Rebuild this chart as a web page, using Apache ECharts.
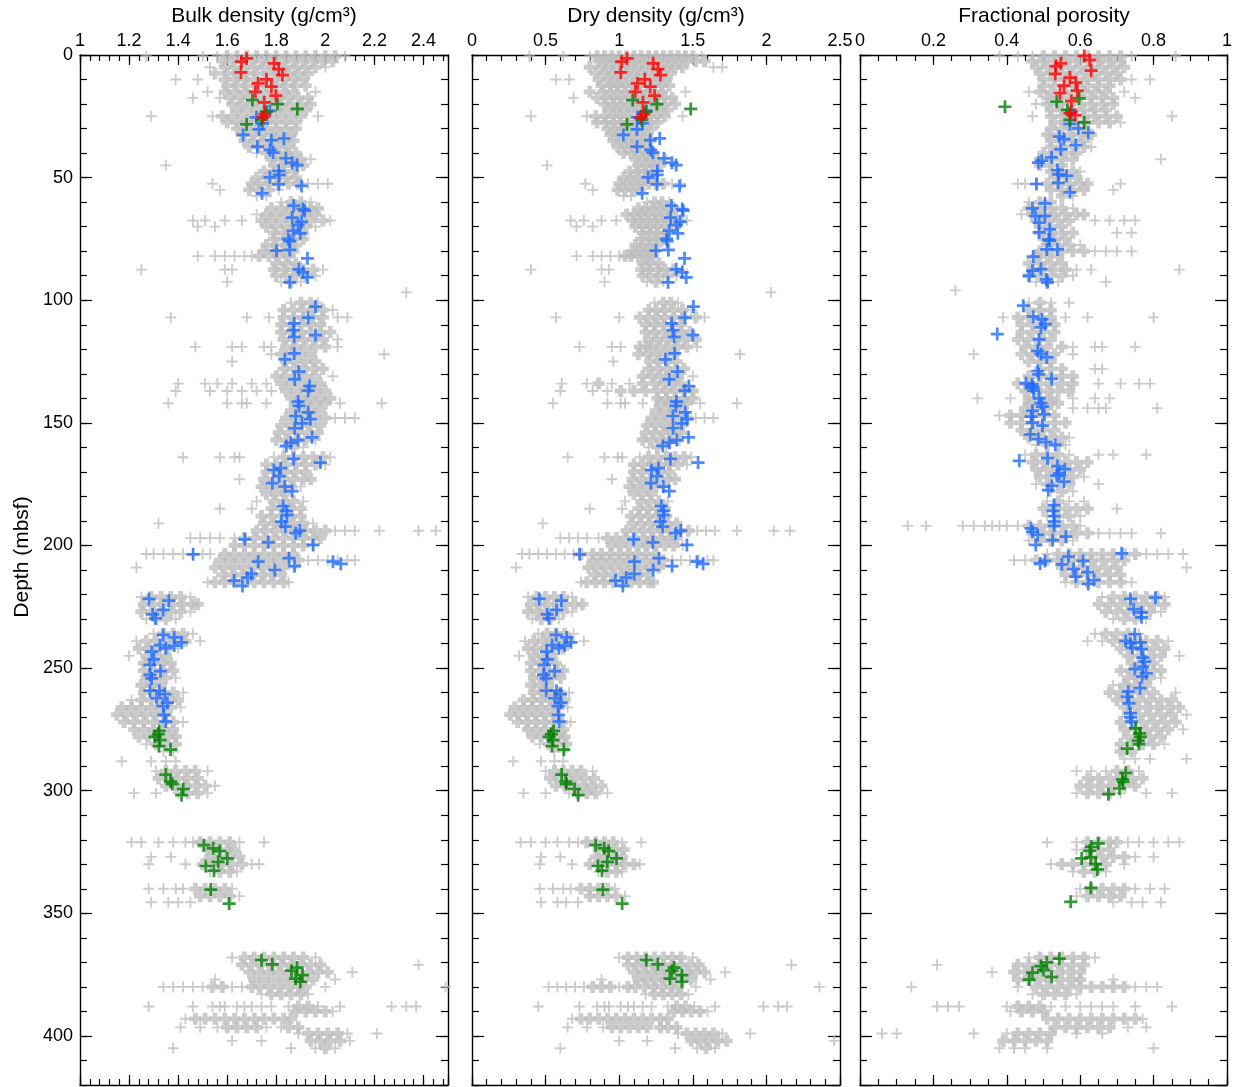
<!DOCTYPE html>
<html><head><meta charset="utf-8">
<script src="https://cdn.jsdelivr.net/npm/echarts@6/dist/echarts.min.js"></script>
<style>html,body{margin:0;padding:0;background:#fff}#c{width:1235px;height:1087px}</style>
</head><body><div id="c"></div><script>
// ---------- tick labels / axis settings ----------
const panelTitles = ['Bulk density (g/cm³)', 'Dry density (g/cm³)', 'Fractional porosity'];
const depthTicks = [0, 50, 100, 150, 200, 250, 300, 350, 400];

// ---------- gray data: rows of [depth, x1, x2, ...] ----------
const grayBulk = [
[0.5,1.27,1.50,1.56,1.60,1.64,1.68,1.72,1.76,1.80,1.84,1.88,1.92,1.96,2.00,2.04,2.08],
[2.5,1.58,1.62,1.66,1.70,1.74,1.78,1.83,1.87,1.91,1.95,1.99,2.03],
[5,1.53,1.59,1.63,1.67,1.71,1.75,1.79,1.84,1.88,1.92,1.96,2.00],
[7.5,1.55,1.60,1.64,1.68,1.72,1.77,1.81,1.85,1.89,1.93],
[10,1.39,1.48,1.59,1.63,1.67,1.71,1.75,1.79,1.83,1.87,1.91],
[12.5,1.60,1.64,1.68,1.72,1.76,1.80,1.84,1.88,1.92],
[15,1.52,1.59,1.63,1.67,1.71,1.75,1.79,1.83,1.87,1.96],
[17.5,1.46,1.57,1.61,1.65,1.69,1.73,1.77,1.81,1.85,1.89,1.93],
[20,1.62,1.66,1.70,1.74,1.78,1.82,1.86,1.90,1.94],
[22.5,1.64,1.68,1.72,1.76,1.80,1.84,1.88,1.92],
[25,1.29,1.54,1.58,1.62,1.66,1.70,1.74,1.78,1.82,1.86,1.90,1.97],
[27.5,1.60,1.64,1.68,1.72,1.76,1.80,1.84,1.88],
[30,1.64,1.68,1.72,1.76,1.80,1.84,1.88],
[32.5,1.66,1.70,1.74,1.78,1.82,1.86],
[35,1.67,1.71,1.75,1.79,1.83,1.87],
[37.5,1.69,1.73,1.77,1.81,1.85],
[40,1.72,1.76,1.80,1.84,1.88],
[42.5,1.78,1.82,1.86,1.90,1.94],
[45,1.35,1.79,1.83,1.87,1.91],
[47.5,1.75,1.79,1.83,1.87],
[50,1.72,1.76,1.80,1.84,1.88],
[52.5,1.54,1.70,1.73,1.77,1.81,1.85,1.89,1.93,1.97,2.01],
[55,1.57,1.69,1.73,1.77,1.81],
[57.5,1.72,1.76],
[60,1.82,1.86,1.90,1.94],
[62.5,1.78,1.82,1.86,1.90,1.94,1.97],
[65,1.72,1.76,1.80,1.84,1.88,1.92,1.96],
[67.5,1.46,1.51,1.59,1.66,1.74,1.78,1.82,1.86,1.90,1.94,1.99,2.02],
[70,1.48,1.55,1.76,1.80,1.84,1.88,1.92,1.96],
[72.5,1.79,1.83,1.87,1.91],
[75,1.79,1.83,1.87,1.91],
[77.5,1.76,1.80,1.84,1.88],
[80,1.75,1.79,1.83,1.87],
[82,1.48,1.55,1.59,1.63,1.67,1.70,1.73,1.77,1.81,1.85],
[85,1.80,1.84,1.88],
[87.5,1.25,1.59,1.62,1.79,1.83,1.87,1.91,1.95,1.99],
[90,1.80,1.84,1.88,1.92,1.96],
[92.5,1.60,1.82,1.86,1.90],
[96.8,2.33],
[101,1.86,1.90,1.94,1.97],
[104,1.83,1.87,1.91,1.95,1.99,2.03],
[107,1.37,1.68,1.77,1.83,1.87,1.91,1.95,1.99,2.05,2.09],
[110,1.82,1.86,1.90,1.94,1.98],
[113,1.82,1.86,1.90,1.94,1.98,2.02],
[116,1.83,1.87,1.91,1.95,1.99,2.05],
[119,1.47,1.62,1.66,1.75,1.78,1.84,1.88,1.92,1.96,2.00,2.05],
[122,1.78,1.82,1.86,1.90,1.94,2.24],
[125,1.62,1.84,1.88,1.92,1.96],
[128,1.83,1.87,1.91,1.95,1.99],
[131,1.80,1.84,1.88,1.92,1.96,2.03],
[134,1.40,1.51,1.56,1.62,1.70,1.76,1.82,1.86,1.90,1.94,1.98],
[137,1.39,1.53,1.60,1.66,1.72,1.78,1.84,1.88,1.92,1.96,2.00],
[140,1.86,1.90,1.94,1.98,2.02],
[142,1.36,1.60,1.66,1.68,1.76,1.88,1.92,1.96,2.00,2.06,2.23],
[145,1.86,1.90,1.94,1.98],
[148,1.84,1.88,1.92,1.96,2.00,2.04,2.08,2.12],
[151,1.82,1.86,1.90,1.94,1.98],
[154,1.81,1.85,1.89,1.93,1.97],
[157,1.80,1.84,1.88,1.92,1.96],
[160,1.83,1.87,1.91],
[164,1.42,1.57,1.63,1.65,1.79,1.83,1.87,1.91,1.95,1.99,2.02],
[167,1.76,1.80,1.84,1.88,1.92,1.96,2.00],
[170,1.76,1.80,1.84,1.88,1.92],
[173,1.65,1.75,1.79,1.83,1.87,1.91,1.94],
[176,1.74,1.78,1.82,1.86,1.90],
[179,1.76,1.80,1.84],
[182,1.72,1.79,1.83,1.87,1.91],
[185,1.57,1.70,1.78,1.82,1.86,1.90],
[188,1.74,1.78,1.82,1.86,1.90],
[191,1.32,1.75,1.79,1.83,1.87,1.91,1.95],
[194,1.72,1.76,1.80,1.84,1.88,1.92,1.96,2.00,2.04,2.08,2.12,2.22,2.38,2.45],
[197,1.45,1.49,1.53,1.57,1.63,1.67,1.71,1.75,1.79,1.83,1.87,1.91,1.95,1.98],
[200,1.63,1.67,1.71,1.75,1.79,1.83,1.87,1.91,1.95],
[203.5,1.27,1.30,1.34,1.38,1.42,1.46,1.50,1.53,1.59,1.63,1.67,1.71,1.75,1.79,1.83,1.87],
[206,1.57,1.61,1.65,1.69,1.73,1.77,1.81,1.85,1.89,1.93,1.97,2.01,2.05,2.09,2.12],
[209,1.23,1.55,1.59,1.63,1.67,1.71,1.75,1.79,1.83,1.87],
[212,1.58,1.62,1.66,1.70,1.74,1.78,1.82],
[215,1.52,1.55,1.59,1.63,1.67,1.71,1.75,1.79,1.83,1.85],
[221,1.25,1.29,1.33,1.37,1.41,1.45],
[224,1.26,1.30,1.34,1.38,1.42,1.46,1.48],
[227,1.25,1.29,1.33,1.37,1.41,1.45],
[230,1.27,1.31,1.35,1.39],
[236,1.30,1.34,1.38,1.42,1.46],
[239,1.23,1.27,1.31,1.35,1.39,1.43,1.49],
[242,1.24,1.28,1.32,1.36,1.40],
[245,1.20,1.27,1.31,1.35],
[248,1.26,1.30,1.34,1.37],
[251,1.26,1.30,1.34,1.38],
[254,1.27,1.31,1.35,1.39],
[257,1.25,1.29,1.33],
[260,1.26,1.30,1.34,1.38,1.42],
[263,1.21,1.25,1.29,1.33,1.37,1.40],
[266,1.17,1.21,1.25,1.29,1.33,1.37,1.41],
[269,1.15,1.19,1.23,1.27,1.31,1.35],
[272,1.18,1.22,1.26,1.30,1.34,1.38,1.42],
[275,1.22,1.26,1.30,1.34,1.38],
[278,1.24,1.28,1.32,1.36,1.39],
[281,1.27,1.31,1.35,1.39],
[284,1.34,1.38],
[288,1.17,1.29,1.35,1.39],
[292,1.31,1.35,1.39,1.43,1.47,1.52],
[295,1.32,1.36,1.40,1.44,1.48],
[298,1.35,1.39,1.43,1.47,1.51,1.55],
[301,1.22,1.31,1.40,1.44,1.48,1.52],
[321,1.21,1.25,1.32,1.38,1.43,1.46,1.49,1.53,1.57,1.61,1.65,1.75],
[324,1.52,1.56,1.60,1.63],
[327,1.29,1.37,1.53,1.57,1.61,1.65],
[330,1.28,1.43,1.50,1.54,1.58,1.62,1.66,1.70,1.73],
[333,1.53,1.57,1.61,1.64],
[340,1.28,1.34,1.39,1.42,1.47,1.51,1.55,1.59,1.62],
[343,1.49,1.53,1.57,1.61,1.65],
[345.5,1.29,1.36,1.40,1.45],
[368,1.62,1.67,1.71,1.75,1.79,1.83,1.87,1.91,1.96],
[371,1.66,1.70,1.74,1.78,1.82,1.86,1.90,1.94,1.98,2.38],
[374,1.69,1.73,1.77,1.81,1.85,1.89,1.93,1.97,2.01,2.11],
[377,1.55,1.71,1.75,1.79,1.83,1.87,1.91,1.95,2.04],
[380,1.34,1.38,1.42,1.46,1.50,1.54,1.58,1.62,1.66,1.70,1.73,1.77,1.81,1.85,1.89,1.92,2.00,2.49],
[383,1.74,1.78,1.82,1.86,1.90,1.93],
[388,1.28,1.46,1.54,1.57,1.59,1.64,1.67,1.70,1.74,1.78,1.85,1.89,1.93,1.97,2.06,2.27,2.33,2.37],
[390,1.88,1.92,1.96,2.00,2.03],
[393,1.43,1.47,1.51,1.55,1.59,1.63,1.67,1.71,1.75,1.79,1.83,1.86],
[396.5,1.41,1.49,1.56,1.60,1.64,1.68,1.72,1.76,1.82,1.85,1.89],
[399,1.89,1.93,1.97,2.01,2.05,2.09,2.21],
[402,1.62,1.74,1.94,1.98,2.02,2.06,2.10],
[405,1.38,1.86,1.96,2.00,2.04]
];

const grayDry = [
[0.5,0.39,0.62,0.80,0.85,0.90,0.95,1.00,1.05,1.10,1.15,1.20,1.25,1.30,1.35,1.40,1.45,1.50,1.56],
[2.5,0.86,0.91,0.96,1.01,1.06,1.11,1.16,1.21,1.26,1.31,1.36,1.41,1.46,1.52,1.58],
[5,0.80,0.88,0.93,0.98,1.03,1.08,1.13,1.18,1.23,1.28,1.33,1.38,1.43,1.64,1.70],
[7.5,0.84,0.90,0.95,1.00,1.05,1.10,1.15,1.20,1.25,1.30,1.35],
[10,0.57,0.66,0.86,0.92,0.97,1.02,1.07,1.12,1.17,1.22,1.27,1.32],
[12.5,0.88,0.94,0.99,1.04,1.09,1.14,1.19,1.24,1.29,1.34],
[15,0.80,0.89,0.94,0.99,1.04,1.09,1.14,1.19,1.24,1.29,1.45],
[17.5,0.69,0.85,0.91,0.96,1.01,1.06,1.11,1.16,1.21,1.26,1.31,1.36],
[20,0.90,0.96,1.01,1.06,1.11,1.16,1.21,1.26,1.31,1.38],
[22.5,0.93,0.98,1.03,1.08,1.13,1.18,1.23,1.28,1.33],
[25,0.40,0.78,0.84,0.90,0.96,1.01,1.06,1.11,1.16,1.21,1.26,1.31,1.43],
[27.5,0.85,0.91,0.96,1.01,1.06,1.11,1.16,1.21,1.26],
[30,0.92,0.97,1.02,1.07,1.12,1.17,1.22],
[32.5,0.94,0.99,1.04,1.09,1.14,1.19],
[35,0.96,1.01,1.06,1.11,1.16,1.21],
[37.5,0.99,1.04,1.09,1.14,1.19],
[40,1.03,1.08,1.13,1.18,1.23],
[42.5,1.11,1.16,1.21,1.26,1.32],
[45,0.51,1.13,1.18,1.23,1.28],
[47.5,1.07,1.12,1.17,1.22],
[50,1.03,1.08,1.13,1.18,1.23],
[52.5,0.77,1.00,1.05,1.10,1.15,1.20,1.25,1.30,1.36,1.42],
[55,0.82,0.99,1.04,1.09,1.14],
[57.5,1.03,1.08],
[60,1.19,1.24,1.29,1.34],
[62.5,1.13,1.18,1.23,1.28,1.33,1.37],
[65,1.05,1.10,1.15,1.20,1.25,1.30,1.36],
[67.5,0.67,0.76,0.88,0.98,1.09,1.14,1.19,1.24,1.29,1.34,1.41,1.46],
[70,0.71,0.82,1.11,1.16,1.21,1.26,1.31,1.36],
[72.5,1.16,1.21,1.26,1.31],
[75,1.15,1.20,1.25,1.31],
[77.5,1.11,1.16,1.21,1.26],
[80,1.09,1.14,1.19,1.24],
[82,0.71,0.82,0.88,0.94,1.00,1.04,1.08,1.13,1.18,1.23],
[85,1.16,1.21,1.27],
[87.5,0.40,0.88,0.93,1.15,1.20,1.26,1.31,1.37,1.43],
[90,1.16,1.21,1.27,1.33,1.39],
[92.5,0.90,1.19,1.25,1.30],
[96.8,2.03],
[101,1.24,1.30,1.35,1.40],
[104,1.20,1.25,1.31,1.37,1.43,1.49],
[107,0.57,1.00,1.14,1.20,1.26,1.31,1.37,1.43,1.52,1.58],
[110,1.18,1.24,1.30,1.36,1.42],
[113,1.18,1.24,1.30,1.36,1.42,1.48],
[116,1.20,1.26,1.32,1.38,1.44,1.52],
[119,0.73,0.95,1.01,1.14,1.18,1.22,1.28,1.34,1.40,1.46,1.53],
[122,1.13,1.19,1.25,1.31,1.37,1.82],
[125,0.96,1.21,1.27,1.33,1.39],
[128,1.20,1.26,1.32,1.38,1.44],
[131,1.16,1.22,1.28,1.34,1.40,1.50],
[134,0.61,0.78,0.86,0.95,1.07,1.16,1.24,1.30,1.36,1.42],
[137,0.60,0.82,0.92,1.01,1.10,1.18,1.26,1.32,1.38,1.44,1.50],
[140,1.26,1.32,1.38,1.44,1.50],
[142,0.55,0.92,1.01,1.04,1.16,1.28,1.34,1.40,1.46,1.55,1.80],
[145,1.25,1.31,1.37,1.43],
[148,1.22,1.28,1.34,1.40,1.46,1.52,1.58,1.64],
[151,1.19,1.25,1.31,1.37,1.43],
[154,1.18,1.24,1.30,1.36,1.42],
[157,1.16,1.22,1.28,1.34,1.40],
[160,1.20,1.26,1.32],
[164,0.65,0.90,0.99,1.02,1.14,1.20,1.26,1.32,1.38,1.44,1.49],
[167,1.10,1.16,1.22,1.28,1.34,1.40,1.46],
[170,1.10,1.16,1.22,1.28,1.34],
[173,0.95,1.09,1.15,1.21,1.27,1.33,1.38],
[176,1.07,1.13,1.19,1.25,1.31],
[179,1.10,1.16,1.22],
[182,1.04,1.15,1.21,1.27,1.33],
[185,0.80,1.02,1.13,1.19,1.25,1.31],
[188,1.08,1.14,1.20,1.26,1.32],
[191,0.48,1.09,1.15,1.21,1.27,1.33,1.39],
[194,1.05,1.11,1.17,1.23,1.29,1.35,1.41,1.47,1.53,1.59,1.65,1.80,2.05,2.16],
[197,0.60,0.66,0.72,0.78,0.86,0.92,0.98,1.04,1.10,1.16,1.22,1.28,1.34,1.39],
[200,0.95,1.01,1.07,1.13,1.19,1.25,1.31,1.37,1.43],
[203.5,0.34,0.39,0.45,0.51,0.57,0.63,0.69,0.74,0.82,0.88,0.94,1.00,1.06,1.12,1.18,1.24],
[206,0.82,0.88,0.94,1.00,1.06,1.12,1.18,1.24,1.30,1.36,1.42,1.48,1.54,1.60,1.64],
[209,0.30,0.79,0.85,0.91,0.97,1.03,1.09,1.15,1.21,1.27],
[212,0.83,0.89,0.95,1.01,1.07,1.13,1.19],
[215,0.74,0.78,0.84,0.90,0.96,1.02,1.08,1.14,1.20,1.23],
[221,0.38,0.44,0.50,0.56,0.62,0.68],
[224,0.40,0.46,0.52,0.58,0.64,0.70,0.75],
[227,0.38,0.44,0.50,0.56,0.62,0.68],
[230,0.41,0.47,0.53,0.59],
[236,0.45,0.51,0.57,0.63,0.69],
[239,0.36,0.42,0.48,0.54,0.60,0.66,0.76],
[242,0.38,0.44,0.50,0.56,0.62],
[245,0.32,0.42,0.48,0.54],
[248,0.40,0.46,0.52,0.57],
[251,0.40,0.46,0.52,0.58,0.62],
[254,0.42,0.48,0.54,0.60],
[257,0.40,0.46,0.52],
[260,0.42,0.48,0.54,0.60,0.66],
[263,0.35,0.41,0.47,0.53,0.59,0.63],
[266,0.29,0.35,0.41,0.47,0.53,0.59,0.65],
[269,0.26,0.32,0.38,0.44,0.50,0.56],
[272,0.31,0.37,0.43,0.49,0.55,0.61,0.67],
[275,0.38,0.44,0.50,0.56,0.62],
[278,0.41,0.47,0.53,0.59,0.63],
[281,0.46,0.52,0.58,0.64],
[284,0.56,0.62],
[288,0.28,0.47,0.56,0.62],
[292,0.50,0.56,0.62,0.68,0.74,0.82],
[295,0.53,0.59,0.65,0.71,0.77,0.83],
[298,0.57,0.63,0.69,0.75,0.81,0.88],
[301,0.35,0.50,0.66,0.72,0.78,0.84,0.92],
[321,0.33,0.40,0.50,0.58,0.66,0.72,0.78,0.84,0.90,0.96,1.02,1.15],
[324,0.86,0.92,0.98,1.03],
[327,0.47,0.60,0.84,0.90,0.96,1.02],
[330,0.46,0.68,0.80,0.86,0.92,0.98,1.04,1.10,1.14],
[333,0.86,0.92,0.98,1.02],
[340,0.46,0.55,0.62,0.67,0.74,0.80,0.86,0.92,0.97],
[343,0.80,0.86,0.92,0.98,1.04],
[345.5,0.47,0.58,0.64,0.72],
[368,1.00,1.06,1.12,1.18,1.24,1.30,1.36,1.42,1.50],
[371,1.06,1.12,1.18,1.24,1.30,1.36,1.42,1.48,1.54,2.17],
[374,1.10,1.16,1.22,1.28,1.34,1.40,1.46,1.52,1.58,1.72],
[377,0.88,1.13,1.19,1.25,1.31,1.37,1.43,1.49,1.62],
[380,0.52,0.58,0.64,0.70,0.76,0.82,0.88,0.94,1.00,1.06,1.11,1.17,1.23,1.29,1.35,1.40,1.52,2.36],
[383,1.18,1.24,1.30,1.36,1.42,1.47],
[388,0.45,0.73,0.85,0.90,0.93,1.01,1.06,1.10,1.16,1.22,1.33,1.39,1.45,1.51,1.65,1.98,2.08,2.14],
[390,1.37,1.43,1.49,1.55,1.60],
[393,0.68,0.74,0.80,0.86,0.92,0.98,1.04,1.10,1.16,1.22,1.28,1.33],
[396.5,0.65,0.78,0.89,0.95,1.01,1.07,1.13,1.19,1.28,1.33,1.39],
[399,1.40,1.46,1.52,1.58,1.64,1.70,1.89],
[402,1.00,1.19,1.49,1.55,1.61,1.67,1.73,2.46],
[405,0.60,1.38,1.53,1.59,1.65]
];

const grayPor = [
[0.5,0.38,0.43,0.47,0.50,0.53,0.56,0.59,0.62,0.65,0.68,0.71,0.74,0.86],
[2.5,0.47,0.50,0.53,0.56,0.59,0.62,0.65,0.68,0.71],
[5,0.48,0.51,0.54,0.57,0.60,0.63,0.66,0.69,0.72],
[7.5,0.49,0.52,0.55,0.58,0.61,0.64,0.67,0.70],
[10,0.50,0.53,0.56,0.59,0.62,0.65,0.68,0.71,0.74,0.79],
[12.5,0.50,0.53,0.56,0.59,0.62,0.65,0.68],
[15,0.46,0.49,0.52,0.55,0.58,0.61,0.64,0.67,0.72],
[17.5,0.51,0.54,0.57,0.60,0.63,0.66,0.69,0.75],
[20,0.48,0.51,0.54,0.57,0.60,0.63,0.66,0.69],
[22.5,0.52,0.55,0.58,0.61,0.64,0.67],
[25,0.47,0.52,0.55,0.58,0.61,0.64,0.67,0.70,0.85],
[27.5,0.53,0.56,0.59,0.62,0.65,0.68,0.71],
[30,0.52,0.55,0.58,0.61],
[32.5,0.51,0.54,0.57,0.60,0.63],
[35,0.52,0.55,0.58,0.61],
[37.5,0.52,0.55,0.58,0.61,0.63],
[40,0.50,0.53,0.56,0.59],
[42.5,0.49,0.52,0.55,0.58,0.82],
[45,0.49,0.52,0.55],
[47.5,0.52,0.55,0.58,0.60],
[50,0.53,0.56,0.59],
[52.5,0.43,0.45,0.48,0.51,0.54,0.57,0.60,0.62,0.71],
[55,0.52,0.55,0.58,0.61,0.69],
[57.5,0.55,0.58],
[60,0.46,0.49,0.52],
[62.5,0.46,0.49,0.52,0.55,0.58],
[65,0.44,0.47,0.50,0.53,0.56,0.59,0.61],
[67.5,0.48,0.51,0.54,0.57,0.64,0.68,0.72,0.75],
[70,0.49,0.52,0.55],
[72.5,0.49,0.52,0.55,0.58,0.70,0.74],
[75,0.50,0.53,0.56],
[77.5,0.51,0.54,0.57,0.60],
[80,0.49,0.52,0.55,0.58,0.61,0.64,0.67,0.70,0.74],
[82,0.48,0.51,0.54],
[85,0.46,0.49,0.52,0.55],
[87.5,0.47,0.50,0.53,0.56,0.59,0.63,0.87],
[90,0.46,0.49,0.52,0.55,0.58],
[92.5,0.48,0.51,0.54,0.67],
[96,0.26],
[101,0.46,0.49,0.52,0.57],
[104,0.46,0.49,0.52],
[107,0.39,0.43,0.46,0.49,0.52,0.56,0.62,0.80],
[110,0.44,0.47,0.50,0.53],
[113,0.44,0.47,0.50,0.53],
[116,0.43,0.46,0.49,0.52],
[119,0.45,0.48,0.51,0.55,0.58,0.64,0.66,0.75],
[122,0.31,0.44,0.47,0.50,0.53,0.58],
[125,0.46,0.49,0.52],
[128,0.49,0.52,0.55,0.64,0.66],
[131,0.46,0.49,0.52,0.55,0.58],
[134,0.43,0.46,0.49,0.52,0.55,0.58,0.65,0.71,0.76,0.79],
[137,0.45,0.48,0.51,0.54,0.57],
[140,0.32,0.41,0.46,0.49,0.52,0.58,0.64,0.68],
[142,0.46,0.49,0.52,0.54],
[144,0.45,0.48,0.51,0.58,0.62,0.65,0.67,0.81],
[147,0.38,0.41,0.44,0.47,0.50,0.53],
[150,0.41,0.44,0.47,0.50,0.53,0.56],
[153,0.44,0.47,0.50,0.53],
[156,0.46,0.49,0.52,0.55,0.57],
[159,0.48,0.51,0.54,0.56],
[163,0.45,0.48,0.51,0.54,0.57,0.65,0.69,0.78],
[166,0.47,0.50,0.53,0.56,0.59,0.62],
[169,0.48,0.51,0.54,0.57,0.60],
[172,0.49,0.52,0.55,0.58,0.61],
[175,0.48,0.51,0.54,0.57,0.65],
[178,0.52,0.55,0.58],
[182,0.51,0.54,0.57,0.61],
[185,0.50,0.53,0.56,0.59,0.62,0.70],
[188,0.51,0.54,0.57,0.60],
[192,0.13,0.18,0.28,0.31,0.34,0.36,0.38,0.40,0.43,0.46,0.49,0.52,0.55,0.58,0.60],
[195,0.47,0.50,0.53,0.56,0.59,0.62,0.65,0.68,0.71,0.74,0.82],
[198,0.46,0.49,0.52,0.55,0.58],
[203.5,0.51,0.54,0.57,0.60,0.63,0.66,0.69,0.72,0.75,0.78,0.81,0.84,0.88],
[206,0.42,0.45,0.48,0.51,0.54,0.57,0.60,0.63,0.66,0.69,0.72],
[209,0.55,0.58,0.61,0.64,0.67,0.70,0.89],
[212,0.56,0.59,0.62,0.65,0.68,0.71],
[215,0.56,0.59,0.62,0.65,0.68,0.71,0.74],
[221,0.66,0.69,0.72,0.75,0.78,0.81,0.83],
[224,0.65,0.68,0.71,0.74,0.77,0.80,0.83],
[227,0.67,0.70,0.73,0.76,0.79,0.82],
[230,0.69,0.72,0.75,0.78],
[236,0.64,0.67,0.70,0.73,0.76],
[239,0.62,0.66,0.69,0.72,0.75,0.78,0.81,0.84],
[242,0.71,0.74,0.77,0.80,0.83],
[245,0.73,0.76,0.79,0.82,0.87],
[248,0.74,0.77,0.80],
[251,0.71,0.74,0.77,0.80,0.82],
[254,0.73,0.76,0.79,0.82],
[257,0.69,0.72,0.75,0.78],
[260,0.68,0.71,0.74,0.77,0.80,0.86],
[263,0.70,0.73,0.76,0.79,0.82,0.85],
[266,0.72,0.75,0.78,0.81,0.84,0.87],
[269,0.73,0.76,0.79,0.82,0.85,0.89],
[272,0.71,0.74,0.77,0.80,0.83,0.86],
[275,0.72,0.75,0.78,0.81,0.84,0.88],
[278,0.73,0.76,0.79,0.82],
[281,0.71,0.74,0.77,0.80,0.83],
[284,0.71,0.74],
[287,0.72,0.75,0.79,0.89],
[292,0.59,0.63,0.67,0.70,0.73,0.76],
[295,0.62,0.65,0.68,0.71,0.74,0.77],
[298,0.60,0.63,0.66,0.69,0.72,0.75],
[301,0.59,0.62,0.65,0.68,0.71,0.78,0.85],
[321,0.51,0.59,0.62,0.65,0.68,0.70,0.73,0.76,0.80,0.84,0.87],
[324,0.59,0.62,0.65,0.68],
[327,0.63,0.66,0.69,0.72,0.75,0.80],
[330,0.52,0.55,0.58,0.61,0.64,0.67,0.72],
[333,0.58,0.61,0.64,0.67],
[340,0.60,0.63,0.66,0.69,0.72,0.75,0.79,0.83],
[343,0.59,0.62,0.65,0.68,0.71],
[345.5,0.69,0.74,0.77,0.82],
[368,0.46,0.49,0.52,0.55,0.58,0.61,0.64],
[371,0.21,0.43,0.46,0.49,0.52,0.55,0.58,0.61],
[374,0.36,0.42,0.45,0.48,0.51,0.54,0.57,0.60],
[377,0.43,0.46,0.49,0.52,0.55,0.58,0.60,0.69],
[380,0.14,0.43,0.48,0.51,0.54,0.57,0.60,0.63,0.66,0.69,0.72,0.75,0.78,0.81],
[383,0.47,0.50,0.53,0.56,0.59],
[388,0.21,0.24,0.27,0.40,0.43,0.46,0.49,0.52,0.56,0.60,0.63,0.66,0.69,0.75,0.85],
[390,0.41,0.44,0.47,0.50],
[393,0.51,0.54,0.57,0.60,0.63,0.66,0.69,0.72,0.75,0.77],
[396.5,0.53,0.56,0.59,0.62,0.65,0.68,0.73,0.78],
[399,0.06,0.10,0.31,0.40,0.43,0.46,0.49,0.52,0.59,0.66],
[402,0.39,0.42,0.45,0.48,0.51],
[405,0.38,0.42,0.45,0.51,0.80]
];

// ---------- coloured data: [x, depth] ----------
const redBulk = [[1.679,1.4],[1.658,2.7],[1.656,7.1],[1.791,3.4],[1.810,5.8],[1.825,8.2],[1.760,9.9],[1.726,11.6],[1.780,12.9],[1.715,15.0],[1.798,16.6],[1.751,19.3],[1.753,24.1],[1.746,25.4]];
const redDry = [[1.053,1.4],[1.017,2.7],[1.011,7.1],[1.231,3.4],[1.263,5.8],[1.280,8.2],[1.174,9.9],[1.124,11.6],[1.211,12.9],[1.109,15.0],[1.240,16.6],[1.161,19.3],[1.167,24.1],[1.146,25.4]];
const redPor = [[0.611,0.4],[0.626,2.0],[0.630,6.4],[0.547,3.4],[0.534,4.5],[0.532,7.7],[0.572,9.2],[0.588,11.3],[0.556,12.5],[0.592,14.5],[0.545,15.6],[0.576,18.8],[0.572,23.8],[0.586,24.5]];

const greenBulk = [[1.703,18.4],[1.805,20.0],[1.886,22.0],[1.760,23.1],[1.740,26.5],[1.679,28.3],
[1.323,275.6],[1.319,276.9],[1.305,278.0],[1.326,279.4],[1.322,281.8],[1.369,283.2],
[1.350,293.4],[1.369,296.3],[1.376,297.3],[1.421,299.3],[1.414,301.8],
[1.505,322.2],[1.543,323.5],[1.570,324.6],[1.600,327.6],[1.563,329.0],[1.513,330.7],[1.546,332.6],[1.533,340.3],[1.608,346.0],
[1.740,369.1],[1.784,370.8],[1.862,373.4],[1.885,372.1],[1.907,375.2],[1.879,376.6],[1.898,377.9]];
const greenDry = [[1.092,18.4],[1.256,20.0],[1.486,22.0],[1.181,23.1],[1.154,26.5],[1.053,28.3],
[0.554,275.6],[0.539,276.9],[0.523,278.0],[0.550,279.4],[0.544,281.8],[0.624,283.2],
[0.609,293.4],[0.637,296.3],[0.642,297.3],[0.697,299.3],[0.721,301.8],
[0.840,322.2],[0.898,323.5],[0.929,324.6],[0.982,327.6],[0.919,329.0],[0.856,330.7],[0.883,332.6],[0.889,340.3],[1.020,346.0],
[1.184,369.1],[1.263,370.8],[1.357,373.4],[1.373,372.1],[1.426,375.2],[1.344,376.6],[1.426,377.9]];
const greenPor = [[0.597,17.7],[0.536,19.0],[0.395,21.1],[0.565,22.4],[0.572,26.5],[0.611,27.5],
[0.751,274.6],[0.762,276.6],[0.764,278.0],[0.758,279.6],[0.760,281.0],[0.728,282.8],
[0.724,292.7],[0.715,295.4],[0.717,296.4],[0.707,299.1],[0.677,301.4],
[0.649,321.5],[0.630,322.9],[0.626,324.5],[0.604,327.6],[0.629,327.2],[0.642,329.9],[0.647,332.1],[0.629,339.6],[0.574,345.3],
[0.543,368.5],[0.509,370.0],[0.493,371.5],[0.500,373.2],[0.470,374.2],[0.461,377.0],[0.522,375.9]];

const blueBulk = [[1.774,22.8],[1.719,25.4],[1.744,27.9],[1.730,30.3],[1.665,32.6],[1.780,34.7],[1.831,34.0],[1.723,37.4],[1.774,38.7],[1.787,39.8],
[1.839,42.1],[1.865,43.9],[1.885,44.9],[1.810,47.3],[1.812,48.9],[1.774,49.9],[1.810,52.7],[1.903,53.4],[1.742,56.4],
[1.871,61.4],[1.909,62.8],[1.916,63.5],[1.865,66.3],[1.903,68.0],[1.889,69.3],[1.869,71.6],[1.898,72.7],[1.848,75.0],[1.855,75.9],
[1.801,79.8],[1.855,79.5],[1.927,82.9],[1.892,87.4],[1.909,88.6],[1.927,90.7],[1.855,92.7],
[1.960,102.6],[1.930,107.1],[1.873,109.4],[1.869,112.2],[1.960,114.2],[1.873,114.9],[1.873,121.7],[1.835,124.1],[1.892,129.1],[1.875,132.3],
[1.936,135.0],[1.930,136.9],[1.889,141.3],[1.893,143.1],[1.930,145.7],[1.879,147.2],[1.939,148.5],[1.905,150.2],[1.875,152.2],[1.889,157.0],
[1.946,155.9],[1.859,158.1],[1.841,159.4],[1.871,164.7],[1.980,166.2],[1.790,169.2],[1.818,168.5],[1.812,171.7],[1.784,174.6],[1.835,176.0],[1.865,177.8],
[1.828,183.9],[1.841,185.9],[1.844,187.6],[1.821,190.3],[1.837,192.3],[1.879,195.0],[1.896,193.9],[1.672,197.5],[1.767,198.7],[1.950,199.8],
[1.461,203.6],[1.726,206.6],[1.852,205.2],[1.875,208.4],[2.031,206.6],[2.063,207.5],[1.794,210.0],[1.699,211.6],[1.683,213.1],[1.628,214.3],[1.662,216.5],
[1.281,221.8],[1.362,222.5],[1.339,226.3],[1.296,228.1],[1.308,229.7],[1.339,236.5],[1.384,237.5],[1.414,239.5],[1.326,240.6],[1.350,241.9],[1.384,240.8],
[1.292,243.3],[1.301,246.4],[1.285,248.7],[1.328,251.2],[1.285,252.8],[1.292,254.2],[1.285,259.2],[1.323,259.2],[1.346,260.6],[1.312,262.3],
[1.356,264.1],[1.339,265.5],[1.342,269.1],[1.350,271.8]];
const blueDry = [[1.184,22.8],[1.125,25.4],[1.158,27.9],[1.121,30.3],[1.028,32.6],[1.211,34.7],[1.275,34.0],[1.121,37.4],[1.214,38.7],[1.229,39.8],
[1.304,42.1],[1.358,43.9],[1.387,44.9],[1.259,47.3],[1.258,48.9],[1.197,49.9],[1.257,52.7],[1.410,53.4],[1.156,56.4],
[1.355,61.4],[1.428,62.8],[1.435,63.5],[1.349,66.3],[1.414,68.0],[1.389,69.3],[1.340,71.6],[1.398,72.7],[1.322,75.0],[1.326,75.9],
[1.250,79.8],[1.334,79.5],[1.444,82.9],[1.387,87.4],[1.428,88.6],[1.455,90.7],[1.332,92.7],
[1.504,102.6],[1.447,107.1],[1.356,109.4],[1.364,112.2],[1.500,114.2],[1.373,114.9],[1.377,121.7],[1.314,124.1],[1.396,129.1],[1.340,132.3],
[1.473,135.0],[1.446,136.9],[1.389,141.3],[1.384,143.1],[1.449,145.7],[1.365,147.2],[1.462,148.5],[1.424,150.2],[1.366,152.2],[1.391,157.0],
[1.471,155.9],[1.340,158.1],[1.296,159.4],[1.348,164.7],[1.536,166.2],[1.219,169.2],[1.267,168.5],[1.256,171.7],[1.215,174.6],[1.299,176.0],[1.340,177.8],
[1.286,183.9],[1.302,185.9],[1.302,187.6],[1.279,190.3],[1.295,192.3],[1.383,195.0],[1.419,193.9],[1.098,197.5],[1.229,198.7],[1.460,199.8],
[0.731,203.6],[1.103,206.6],[1.270,205.2],[1.359,208.4],[1.528,206.6],[1.570,207.5],[1.231,210.0],[1.103,211.6],[1.048,213.1],[0.975,214.3],[1.025,216.5],
[0.457,221.8],[0.607,222.5],[0.575,226.3],[0.511,228.1],[0.523,229.7],[0.572,236.5],[0.643,237.5],[0.673,239.5],[0.544,240.6],[0.590,241.9],[0.629,240.8],
[0.507,243.3],[0.512,246.4],[0.490,248.7],[0.561,251.2],[0.486,252.8],[0.505,254.2],[0.504,259.2],[0.574,259.2],[0.601,260.6],[0.561,262.3],
[0.605,264.1],[0.584,265.5],[0.587,269.1],[0.592,271.8]];
const bluePor = [[0.576,23.1],[0.572,28.1],[0.595,29.9],[0.622,31.7],[0.543,33.3],[0.556,34.3],[0.547,38.5],[0.588,36.7],[0.522,41.7],[0.495,43.1],[0.486,43.9],
[0.538,46.9],[0.541,48.7],[0.563,49.2],[0.540,52.1],[0.481,52.6],[0.572,56.0],[0.504,60.5],[0.470,62.5],[0.478,65.7],[0.504,65.7],[0.488,68.4],
[0.517,71.1],[0.488,72.3],[0.514,75.2],[0.517,75.7],[0.509,79.3],[0.538,79.3],[0.472,82.2],[0.493,87.3],[0.470,88.0],[0.461,90.1],[0.508,91.5],[0.511,92.7],
[0.445,102.2],[0.472,106.7],[0.496,107.8],[0.505,109.7],[0.493,111.1],[0.374,113.8],[0.488,116.0],[0.484,120.7],[0.493,121.9],[0.509,123.3],
[0.484,128.9],[0.487,130.2],[0.522,132.1],[0.452,133.9],[0.469,134.3],[0.472,135.7],[0.469,135.2],[0.473,136.9],[0.488,140.0],[0.493,142.0],[0.497,143.4],
[0.470,145.1],[0.502,146.5],[0.466,147.5],[0.470,149.9],[0.497,151.1],[0.464,154.7],[0.486,156.6],[0.507,157.9],[0.532,159.0],
[0.434,165.5],[0.511,164.4],[0.538,167.6],[0.558,168.9],[0.543,170.6],[0.536,171.5],[0.556,174.0],[0.523,175.7],[0.513,177.4],
[0.529,183.5],[0.526,185.9],[0.529,188.0],[0.529,190.3],[0.529,192.0],[0.466,193.0],[0.470,194.4],[0.484,195.7],[0.561,196.4],[0.525,197.8],[0.479,199.8],
[0.713,203.2],[0.568,204.5],[0.608,206.3],[0.504,206.3],[0.491,207.3],[0.550,207.7],[0.582,209.6],[0.620,210.9],[0.588,212.7],[0.638,214.1],[0.622,215.7],
[0.737,221.8],[0.805,221.3],[0.746,226.0],[0.767,227.3],[0.767,229.3],[0.749,236.2],[0.724,238.9],[0.737,239.9],[0.764,239.5],[0.742,241.7],[0.767,242.3],
[0.771,245.7],[0.776,247.4],[0.771,249.4],[0.749,250.4],[0.780,252.1],[0.769,253.5],[0.763,258.2],[0.731,259.6],[0.728,261.6],[0.733,264.4],
[0.737,268.4],[0.737,270.1],[0.740,271.8]];

// ---------- build ----------
const TOP = 55, HEIGHT = 1030, WIDTH = 368, DMAX = 420;
function rowsToPoints(rows) {
  const out = [];
  rows.forEach(r => { for (let i = 1; i < r.length; i++) out.push([r[i], r[0]]); });
  return out;
}
// split gray marks into "inside a cloud" (drawn heavier so clouds look solid) and fringe marks
function splitCore(points, xmin, xmax) {
  const sx = WIDTH / (xmax - xmin), sy = HEIGHT / DMAX;
  const pix = points.map(p => [(p[0] - xmin) * sx, p[1] * sy]);
  const core = [], edge = [];
  pix.forEach((a, i) => {
    let up = false, down = false, side = 0;
    for (let j = 0; j < pix.length; j++) {
      if (j === i) continue;
      const dx = Math.abs(pix[j][0] - a[0]), dy = pix[j][1] - a[1];
      if (dx <= 12 && dy > 2 && dy <= 9) down = true;
      if (dx <= 12 && dy < -2 && dy >= -9) up = true;
      if (Math.abs(dy) <= 2 && dx <= 14) side++;
    }
    const isCore = (up && down && side >= 1) || ((up || down) && side >= 2);
    (isCore ? core : edge).push(points[i]);
  });
  return {core, edge};
}
const PLUS_THIN = 'path://M4.15,0H5.85V4.15H10V5.85H5.85V10H4.15V5.85H0V4.15H4.15Z';
const PLUS_CORE = 'path://M3,0H7V3H10V7H7V10H3V7H0V3H3Z';
const PLUS = 'path://M3.95,0H6.05V3.95H10V6.05H6.05V10H3.95V6.05H0V3.95H3.95Z';

const panels = [
  {left: 80, min: 1, max: 2.5, major: 0.2, minor: 0.04, showMax: false, gray: grayBulk, blue: blueBulk, green: greenBulk, red: redBulk},
  {left: 472, min: 0, max: 2.5, major: 0.5, minor: 0.1, showMax: true, gray: grayDry, blue: blueDry, green: greenDry, red: redDry},
  {left: 860, min: 0, max: 1, major: 0.2, minor: 0.05, showMax: true, gray: grayPor, blue: bluePor, green: greenPor, red: redPor}
];
const black = '#000';
const FONT = 'Liberation Sans, Arial, Helvetica, sans-serif';
const grids = [], xAxes = [], yAxes = [], series = [], graphics = [];

panels.forEach((p, i) => {
  grids.push({left: p.left, top: TOP, width: WIDTH, height: HEIGHT, containLabel: false});
  const xBase = {gridIndex: i, type: 'value', min: p.min, max: p.max, splitLine: {show: false}};
  const mkX = (pos, major, labels) => Object.assign({}, xBase, {
    position: pos,
    interval: major ? p.major : p.minor,
    axisLine: {show: major, onZero: false, lineStyle: {color: black, width: 1.4}},
    axisTick: {show: true, inside: true, length: major ? 10 : 6, lineStyle: {color: black, width: 1.2}},
    axisLabel: {show: labels, showMaxLabel: p.showMax, color: black, fontSize: 18, margin: 5, fontFamily: FONT}
  });
  xAxes.push(mkX('top', true, true), mkX('top', false, false), mkX('bottom', true, false), mkX('bottom', false, false));
  const yBase = {gridIndex: i, type: 'value', min: 0, max: DMAX, inverse: true, splitLine: {show: false}};
  const mkY = (pos, major, labels) => Object.assign({}, yBase, {
    position: pos,
    interval: major ? 50 : 10,
    axisLine: {show: major, onZero: false, lineStyle: {color: black, width: 1.4}},
    axisTick: {show: true, inside: true, length: major ? 12 : 7, lineStyle: {color: black, width: 1.2}},
    axisLabel: {show: labels, showMaxLabel: false, color: black, fontSize: 18, margin: 7, fontFamily: FONT,
      formatter: v => depthTicks.indexOf(v) >= 0 ? String(v) : ''}
  });
  yAxes.push(mkY('left', true, i === 0), mkY('left', false, false), mkY('right', true, false), mkY('right', false, false));

  const base = {type: 'scatter', xAxisIndex: 4 * i, yAxisIndex: 4 * i, clip: false, animation: false, silent: true};
  const g = splitCore(rowsToPoints(p.gray), p.min, p.max);
  series.push(Object.assign({}, base, {name: 'all', data: g.edge, symbol: PLUS_THIN, symbolSize: 11, itemStyle: {color: '#bebebe'}}));
  series.push(Object.assign({}, base, {name: 'all core', data: g.core, symbol: PLUS_CORE, symbolSize: 12, itemStyle: {color: '#bebebe'}}));
  series.push(Object.assign({}, base, {name: 'blue', data: p.blue, symbol: PLUS, symbolSize: 13, itemStyle: {color: '#1f6cff'}}));
  series.push(Object.assign({}, base, {name: 'green', data: p.green, symbol: PLUS, symbolSize: 13, itemStyle: {color: '#008000'}}));
  series.push(Object.assign({}, base, {name: 'red', data: p.red, symbol: PLUS, symbolSize: 13, itemStyle: {color: '#ff0000'}}));

  graphics.push({type: 'text', x: p.left + WIDTH / 2, y: 16, style: {text: panelTitles[i], fontSize: 21, fill: black,
    fontFamily: FONT, textAlign: 'center', textVerticalAlign: 'middle'}});
});
graphics.push({type: 'text', x: 22, y: 557, rotation: Math.PI / 2, style: {text: 'Depth (mbsf)', fontSize: 21, fill: black,
  fontFamily: FONT, textAlign: 'center', textVerticalAlign: 'middle'}});

const chart = echarts.init(document.getElementById('c'), null, {renderer: 'canvas'});
chart.setOption({
  backgroundColor: '#fff',
  animation: false,
  grid: grids,
  xAxis: xAxes,
  yAxis: yAxes,
  series: series,
  graphic: graphics
});
</script></body></html>
